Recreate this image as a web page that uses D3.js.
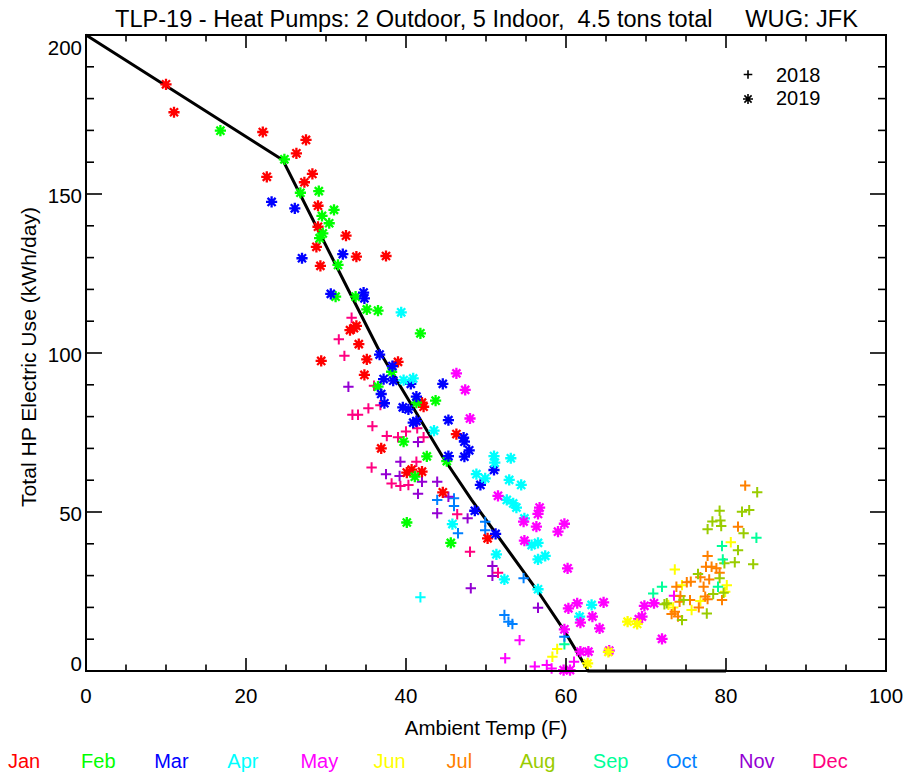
<!DOCTYPE html>
<head>
<meta charset="utf-8">
<title>TLP-19 - Heat Pumps</title>
<script src="https://d3js.org/d3.v7.min.js"></script>
<style>
body { margin: 0; background: #fff; }
text { font-family: "Liberation Sans", Arial, sans-serif; fill: #000; }
</style>
</head>
<body>
<div id="container"></div>
<script>
//*******************
// data
//*******************
const months = ["Jan","Feb","Mar","Apr","May","Jun","Jul","Aug","Sep","Oct","Nov","Dec"];
const monthColors = ["#ff0000","#00ff00","#0000ff","#00ffff","#ff00ff","#ffff00",
                     "#ff8000","#99cc00","#00ff99","#0080ff","#9400d3","#ff0080"];
const xTicks = [0, 20, 40, 60, 80, 100];
const yTicks = [0, 50, 100, 150, 200];
const years = ["2018", "2019"];

// model line (temp F, kWh/day)
const fitLine = [[0,200],[24.6,160.7],[32.8,119.8],[36.8,100],[44.6,67.3],[48.2,53.8],
                 [56.5,25],[59.7,13],[62.8,0],[80,0]];

// 2018 days (+)
const apr18 = [[41.8,23.2]];
const may18 = [[54.2,9.7],[52.4,4.0],[61.0,2.9],[56.1,1.4],[57.6,1.9],[58.2,0.8],[73.5,23.7]];
const jun18 = [[58.9,6.9],[58.3,4.5],[73.6,31.9],[80.6,40.5],[80.1,27.0],[74.5,27.0],[76.8,22.0],
               [72.8,20.8],[73.4,20.0],[75.7,19.2],[79.9,24.9]];
const jul18 = [[82.4,58.3],[81.5,45.4],[77.7,36.2],[77.5,32.8],[78.2,32.8],[78.8,32.3],[79.2,30.9],
               [76.8,29.5],[77.9,28.8],[75.1,27.9],[75.6,28.1],[73.8,26.5],[77.2,26.5],[74.3,23.6],
               [74.2,21.8],[75.5,22.3],[77.4,23.4],[77.7,22.6],[79.5,22.3],[73.6,18.6],[73.2,17.9],
               [74.0,17.1],[76.6,20.0]];
const aug18 = [[83.9,56.2],[79.2,50.4],[82.0,50.1],[82.9,50.6],[78.3,47.0],[79.3,47.3],[77.7,44.6],
               [79.4,45.6],[82.2,43.3],[81.5,38.0],[81.1,34.2],[83.4,33.6],[79.8,33.9],[76.5,30.5],
               [79.2,29.2],[79.7,24.6],[78.4,24.2],[74.7,22.3],[72.3,21.0],[74.5,16.0],[77.6,18.1],
               [72.6,21.3]];
const sep18 = [[83.8,41.9],[79.5,39.3],[79.6,35.1],[72.0,26.5],[79.0,26.5],[59.8,8.4],[70.9,24.4]];
const oct18 = [[43.9,53.8],[46.0,54.3],[46.0,51.9],[46.5,43.3],[49.9,46.9],[49.9,44.3],[54.7,29.2],
               [52.3,17.6],[52.8,15.5],[53.3,14.8],[59.8,10.8]];
const nov18 = [[32.8,89.4],[41.5,72.0],[39.3,65.8],[37.5,61.9],[39.2,61.3],[42.0,59.5],[43.9,59.5],
               [41.5,55.7],[45.3,54.8],[43.9,49.6],[47.7,48.0],[50.8,33.0],[50.8,29.9],[48.1,26.0],
               [56.5,19.9]];
const dec18 = [[33.2,111.1],[31.6,104.3],[32.3,99.1],[36.0,89.7],[36.8,83.6],[35.3,82.6],[33.3,80.6],
               [34.0,80.6],[35.8,77.0],[37.6,73.9],[39.0,73.5],[40.0,75.3],[41.4,76.3],[42.2,73.5],
               [41.3,65.8],[35.7,64.0],[38.2,59.0],[39.3,58.2],[40.3,58.5],[46.4,49.3],[48.0,37.5],
               [51.5,30.9]];

// 2019 days (asterisk)
const jan19 = [[10.0,184.5],[11.0,175.7],[22.1,169.5],[27.5,167.0],[26.3,162.8],[22.6,155.4],[28.3,156.3],
               [27.3,153.7],[29.0,146.3],[29.0,139.7],[32.5,136.9],[28.8,133.4],[33.8,130.3],[37.5,130.5],
               [29.3,127.4],[33.8,108.5],[33.0,107.2],[33.5,107.8],[34.1,102.8],[29.4,97.5],[35.1,98.0],
               [39.0,97.2],[34.8,93.1],[42.0,84.4],[42.2,83.1],[46.3,74.5],[36.9,70.0],[40.1,62.4],
               [40.7,63.3],[42.0,62.7],[44.6,56.2],[50.2,41.7]];
const feb19 = [[16.8,169.9],[24.8,160.9],[26.8,150.4],[29.1,150.9],[31.0,145.0],[29.5,143.1],[30.4,140.8],
               [29.6,137.6],[29.2,136.1],[31.5,127.7],[31.2,117.7],[33.7,117.7],[35.1,113.7],[36.5,113.3],
               [41.8,106.2],[38.2,94.1],[36.5,89.4],[41.3,84.4],[43.7,85.0],[39.7,72.1],[42.6,67.5],
               [45.1,66.0],[41.1,61.1],[40.1,46.7],[45.6,40.3]];
const mar19 = [[23.2,147.5],[26.1,145.5],[27.0,129.8],[32.1,131.1],[30.6,118.6],[34.7,119.0],[34.8,117.2],
               [36.7,99.5],[38.3,95.9],[37.2,91.8],[38.4,91.3],[40.6,90.3],[44.6,90.3],[36.9,87.1],
               [37.3,84.2],[41.3,86.3],[39.6,82.9],[40.3,82.3],[45.3,78.9],[40.9,78.1],[41.3,78.6],
               [47.2,73.4],[47.3,72.1],[47.9,69.4],[45.3,67.6],[47.3,67.4],[48.6,50.4],[49.3,58.5],
               [51.0,63.2],[51.2,43.1]];
const apr19 = [[39.4,112.8],[39.7,91.5],[40.9,92.0],[43.5,75.6],[48.8,61.9],[49.9,60.6],[51.0,67.6],
               [51.1,65.5],[53.1,66.9],[52.9,60.1],[54.4,58.5],[52.6,53.8],[53.4,52.7],[53.8,51.4],
               [54.8,48.0],[45.8,46.2],[51.3,36.7],[52.3,28.8],[55.7,39.6],[56.5,40.3],[56.5,35.1],
               [57.4,36.2],[56.5,25.7],[63.2,20.8],[61.7,17.1]];
const may19 = [[46.3,93.6],[47.4,88.4],[48.0,79.4],[51.5,55.1],[56.7,51.4],[56.5,49.4],[56.3,45.4],
               [54.7,47.0],[54.8,41.0],[59.0,43.8],[59.8,46.3],[60.2,32.3],[60.3,19.7],[61.4,21.3],
               [64.7,21.6],[61.8,15.2],[63.3,17.1],[59.8,13.1],[64.2,13.4],[61.8,6.1],[62.8,6.1],
               [65.4,6.4],[59.7,0.3],[60.5,0.3],[69.1,16.3],[69.5,17.1],[69.8,20.5],[71.0,21.3],
               [72.0,10.1]];
const jun19 = [[62.7,2.4],[65.3,6.0],[67.7,15.5],[68.9,14.8]];

// month index, symbol, points
const series = [
  [3, "plus", apr18], [4, "plus", may18], [5, "plus", jun18], [6, "plus", jul18],
  [7, "plus", aug18], [8, "plus", sep18], [9, "plus", oct18], [10, "plus", nov18],
  [11, "plus", dec18],
  [0, "star", jan19], [1, "star", feb19], [2, "star", mar19], [3, "star", apr19],
  [4, "star", may19], [5, "star", jun19]
];

//*******************
// setup svg
//*******************
const width = 918;
const height = 772;
const margin = {top: 35, right: 32, bottom: 101, left: 86};

const svg = d3.select("#container").append("svg")
    .attr("width", width)
    .attr("height", height);

const xScale = d3.scaleLinear().domain([0, 100]).range([margin.left, width - margin.right]);
const yScale = d3.scaleLinear().domain([0, 200]).range([height - margin.bottom, margin.top]);

// marker shapes (relative to point)
function plusPath(r) {
    return "M" + (-r) + ",0H" + r + "M0," + (-r) + "V" + r;
}
function starPath(r) {
    const d = r * 0.72;
    return plusPath(r) + "M" + (-d) + "," + (-d) + "L" + d + "," + d +
           "M" + (-d) + "," + d + "L" + d + "," + (-d);
}

//*******************
// model line
//*******************
const line = d3.line()
    .x(function(d) { return xScale(d[0]); })
    .y(function(d) { return yScale(d[1]); });

svg.append("path")
    .attr("d", line(fitLine))
    .attr("fill", "none")
    .attr("stroke", "#000")
    .attr("stroke-width", 3);

//*******************
// points
//*******************
series.forEach(function(s) {
    svg.append("g").selectAll("path")
        .data(s[2])
        .enter()
        .append("path")
        .attr("transform", function(d) { return "translate(" + xScale(d[0]) + "," + yScale(d[1]) + ")"; })
        .attr("d", s[1] == "plus" ? plusPath(5.2) : starPath(5.6))
        .attr("fill", "none")
        .attr("stroke", monthColors[s[0]])
        .attr("stroke-width", s[1] == "plus" ? 2 : 2.3);
});

//*******************
// frame and ticks
//*******************
const x0 = xScale(0), x1 = xScale(100), y0 = yScale(0), y1 = yScale(200);
const axisG = svg.append("g").attr("stroke", "#000").attr("fill", "none");

axisG.append("rect")
    .attr("x", x0).attr("y", y1)
    .attr("width", x1 - x0).attr("height", y0 - y1)
    .attr("stroke-width", 2);

const xMinor = d3.range(0, 101, 5);
const yMinor = d3.range(0, 201, 10);

xMinor.forEach(function(v) {
    const len = (v % 20 == 0) ? 13 : 6.5;
    axisG.append("line").attr("x1", xScale(v)).attr("x2", xScale(v))
        .attr("y1", y0).attr("y2", y0 - len).attr("stroke-width", 1.6);
    axisG.append("line").attr("x1", xScale(v)).attr("x2", xScale(v))
        .attr("y1", y1).attr("y2", y1 + len).attr("stroke-width", 1.6);
});
yMinor.forEach(function(v) {
    const len = (v % 50 == 0) ? 16 : 8;
    axisG.append("line").attr("x1", x0).attr("x2", x0 + len)
        .attr("y1", yScale(v)).attr("y2", yScale(v)).attr("stroke-width", 1.6);
    axisG.append("line").attr("x1", x1).attr("x2", x1 - len)
        .attr("y1", yScale(v)).attr("y2", yScale(v)).attr("stroke-width", 1.6);
});

// tick labels
svg.selectAll(".xlab")
    .data(xTicks)
    .enter().append("text")
    .attr("class", "xlab")
    .attr("x", function(d) { return xScale(d); })
    .attr("y", 703)
    .attr("text-anchor", "middle")
    .style("font-size", "20.5px")
    .text(function(d) { return d; });

svg.selectAll(".ylab")
    .data(yTicks)
    .enter().append("text")
    .attr("class", "ylab")
    .attr("x", 82)
    .attr("y", function(d) {
        const dy = d == 0 ? 0 : (d == 200 ? 20 : 9);
        return yScale(d) + dy;
    })
    .attr("text-anchor", "end")
    .style("font-size", "20.5px")
    .text(function(d) { return d; });

//*******************
// titles
//*******************
svg.append("text")
    .attr("x", 115)
    .attr("y", 26.5)
    .attr("textLength", 743)
    .attr("lengthAdjust", "spacingAndGlyphs")
    .style("font-size", "23.5px")
    .style("white-space", "pre")
    .text("TLP-19 - Heat Pumps: 2 Outdoor, 5 Indoor,  4.5 tons total     WUG: JFK");

svg.append("text")
    .attr("x", 486)
    .attr("y", 735)
    .attr("text-anchor", "middle")
    .style("font-size", "20.5px")
    .text("Ambient Temp (F)");

svg.append("text")
    .attr("transform", "translate(36,357) rotate(-90)")
    .attr("text-anchor", "middle")
    .attr("textLength", 300)
    .attr("lengthAdjust", "spacingAndGlyphs")
    .style("font-size", "20.5px")
    .text("Total HP Electric Use (kWh/day)");

//*******************
// legend
//*******************
years.forEach(function(yr, i) {
    svg.append("path")
        .attr("transform", "translate(748," + (74.5 + i * 24.5) + ")")
        .attr("d", i == 0 ? plusPath(4.3) : starPath(5))
        .attr("fill", "none")
        .attr("stroke", "#000")
        .attr("stroke-width", 1.6);
    svg.append("text")
        .attr("x", 776)
        .attr("y", 81.5 + i * 23.5)
        .style("font-size", "20px")
        .text(yr);
});

// month colour key
svg.selectAll(".mon")
    .data(months)
    .enter().append("text")
    .attr("class", "mon")
    .attr("x", function(d, i) { return 8 + i * 73.1; })
    .attr("y", 768)
    .style("font-size", "20px")
    .style("fill", function(d, i) { return monthColors[i]; })
    .text(function(d) { return d; });
</script>
</body>
